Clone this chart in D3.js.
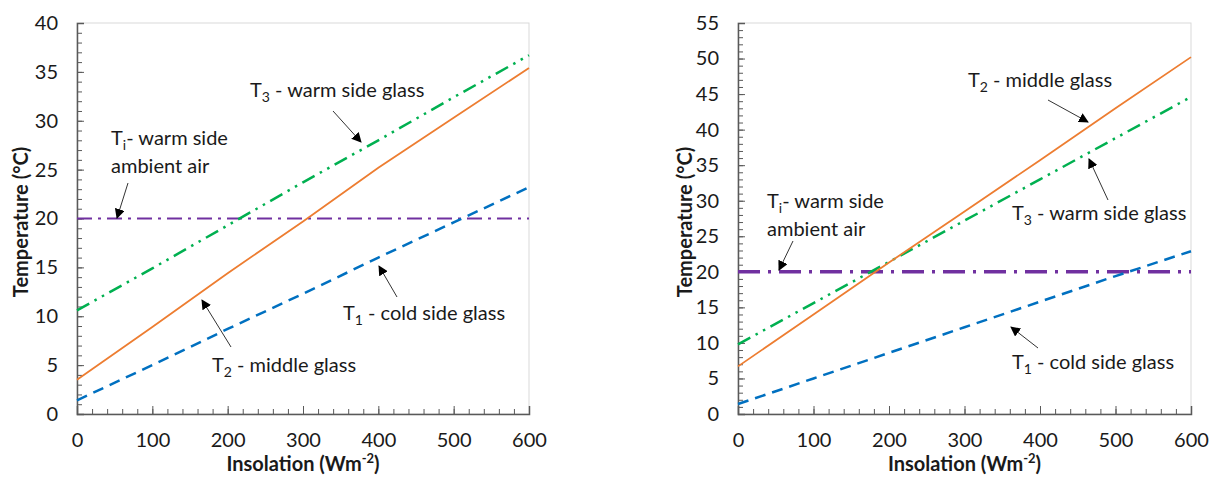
<!DOCTYPE html>
<html>
<head>
<meta charset="utf-8">
<script src="https://cdn.jsdelivr.net/npm/d3@7"></script>
<style>
  body { margin: 0; background: #fff; }
  svg text { font-family: Lato, "Open Sans", sans-serif; fill: #1a1a1a; }
</style>
</head>
<body>
<svg id="chart" width="1212" height="477"></svg>
<script>
// insolation values (Wm-2) where the curves were sampled
const insolation = [0, 100, 200, 300, 400, 500, 600];

// left panel
const leftT1 = [1.4, 5.0, 8.7, 12.3, 16.0, 19.6, 23.2];
const leftT2 = [3.5, 8.9, 14.4, 19.7, 25.2, 30.3, 35.4];
const leftT3 = [10.6, 14.9, 19.3, 23.7, 28.0, 32.4, 36.7];
const leftTi = [20, 20, 20, 20, 20, 20, 20];

// right panel
const rightT1 = [1.4, 5.0, 8.6, 12.2, 15.8, 19.4, 22.9];
const rightT2 = [6.7, 14.0, 21.3, 28.5, 35.7, 43.0, 50.2];
const rightT3 = [9.8, 15.6, 21.4, 27.2, 33.0, 38.8, 44.6];
const rightTi = [20, 20, 20, 20, 20, 20, 20];

const xTicks = [0, 100, 200, 300, 400, 500, 600];
const leftYTicks = [0, 5, 10, 15, 20, 25, 30, 35, 40];
const rightYTicks = [0, 5, 10, 15, 20, 25, 30, 35, 40, 45, 50, 55];

const FS = 20;
const svg = d3.select("#chart");

svg.append("defs").append("marker")
  .attr("id", "arrow")
  .attr("viewBox", "0 0 10 10")
  .attr("refX", 9).attr("refY", 5)
  .attr("markerWidth", 10).attr("markerHeight", 10)
  .attr("markerUnits", "userSpaceOnUse")
  .attr("orient", "auto")
  .append("path")
  .attr("d", "M0,0 L10,5 L0,10 z")
  .attr("fill", "#000");

function label(g, x, y, main, sub, rest) {
  const t = g.append("text").attr("x", x).attr("y", y).attr("font-size", FS);
  t.append("tspan").text(main);
  t.append("tspan").attr("font-size", 14).attr("dy", 5).text(sub);
  t.append("tspan").attr("dy", -5).text(rest);
  return t;
}

function arrow(g, x1, y1, x2, y2) {
  g.append("line")
    .attr("x1", x1).attr("y1", y1).attr("x2", x2).attr("y2", y2)
    .attr("stroke", "#333").attr("stroke-width", 1)
    .attr("marker-end", "url(#arrow)");
}

function drawPanel(opts) {
  const g = svg.append("g");
  const x = d3.scaleLinear().domain([0, 600]).range([opts.left, opts.right]);
  const y = d3.scaleLinear().domain([0, opts.yMax]).range([414, 23]);

  // plot area border (light)
  g.append("rect")
    .attr("x", opts.left).attr("y", 23)
    .attr("width", opts.right - opts.left).attr("height", 391)
    .attr("fill", "none").attr("stroke", "#d9d9d9").attr("stroke-width", 1);

  // minor ticks
  g.append("g")
    .attr("transform", `translate(0,414)`)
    .call(d3.axisBottom(x).tickValues(d3.range(0, 601, 20)).tickSize(-5).tickFormat(""))
    .call(s => s.select(".domain").remove())
    .call(s => s.selectAll("line").attr("stroke", "#595959"));
  g.append("g")
    .attr("transform", `translate(${opts.left},0)`)
    .call(d3.axisLeft(y).tickValues(d3.range(0, opts.yMax + 1, 1)).tickSize(-5).tickFormat(""))
    .call(s => s.select(".domain").remove())
    .call(s => s.selectAll("line").attr("stroke", "#595959"));

  // major ticks + labels
  const xAxis = g.append("g")
    .attr("transform", `translate(0,414)`)
    .call(d3.axisBottom(x).tickValues(xTicks).tickSize(-8).tickPadding(19));
  xAxis.select(".domain").attr("stroke", "#595959").attr("stroke-width", 1.5);
  xAxis.selectAll("line").attr("stroke", "#595959");
  xAxis.selectAll("text").attr("font-size", FS).attr("font-family", "Lato").attr("fill", "#1a1a1a");

  const yAxis = g.append("g")
    .attr("transform", `translate(${opts.left},0)`)
    .call(d3.axisLeft(y).tickValues(opts.yTicks).tickSize(-7).tickPadding(opts.yPad));
  yAxis.select(".domain").attr("stroke", "#595959").attr("stroke-width", 1.5);
  yAxis.selectAll("line").attr("stroke", "#595959");
  yAxis.selectAll("text").attr("font-size", FS).attr("font-family", "Lato").attr("fill", "#1a1a1a");

  // axis titles
  const xt = g.append("text")
    .attr("x", (opts.left + opts.right) / 2).attr("y", 471)
    .attr("text-anchor", "middle").attr("font-size", FS).attr("font-weight", "bold");
  xt.append("tspan").text("Insolation (Wm");
  xt.append("tspan").attr("font-size", 13).attr("dy", -8).text("-2");
  xt.append("tspan").attr("dy", 8).text(")");

  g.append("text")
    .attr("transform", `translate(${opts.yTitleX},222) rotate(-90)`)
    .attr("text-anchor", "middle").attr("font-size", FS).attr("font-weight", "bold")
    .text("Temperature (°C)");

  const line = d3.line().x((d, i) => x(insolation[i])).y(d => y(d));
  const series = [
    { v: opts.ti, color: "#7030A0", w: opts.tiWidth, dash: opts.tiDash },
    { v: opts.t1, color: "#0070C0", w: 2.5, dash: "11,7" },
    { v: opts.t3, color: "#00B050", w: 2.5, dash: "14,6,2.5,6,2.5,6" },
    { v: opts.t2, color: "#ED7D31", w: 1.8, dash: null }
  ];
  series.forEach(s => {
    g.append("path")
      .datum(s.v)
      .attr("d", line)
      .attr("fill", "none")
      .attr("stroke", s.color)
      .attr("stroke-width", s.w)
      .attr("stroke-dasharray", s.dash);
  });

  opts.notes(g);
}

drawPanel({
  left: 77, right: 529, yMax: 40, yTicks: leftYTicks, yPad: 19,
  yTitleX: 28,
  ti: leftTi, t1: leftT1, t2: leftT2, t3: leftT3,
  tiWidth: 2, tiDash: "15,6,3,6",
  notes: g => {
    label(g, 250, 97, "T", "3", " - warm side glass");
    arrow(g, 333, 111, 361, 142);
    label(g, 111, 145, "T", "i", "- warm side");
    g.append("text").attr("x", 111).attr("y", 173).attr("font-size", FS).text("ambient air");
    arrow(g, 128, 183, 117, 218);
    label(g, 343, 320, "T", "1", " - cold side glass");
    arrow(g, 397, 297, 379, 266);
    label(g, 212, 372, "T", "2", " - middle glass");
    arrow(g, 231, 347, 202, 300);
  }
});

drawPanel({
  left: 738, right: 1191, yMax: 55, yTicks: rightYTicks, yPad: 19,
  yTitleX: 692,
  ti: rightTi, t1: rightT1, t2: rightT2, t3: rightT3,
  tiWidth: 3.5, tiDash: "22,8,3,8",
  notes: g => {
    label(g, 968, 87, "T", "2", " - middle glass");
    arrow(g, 1048, 100, 1088, 122);
    label(g, 1012, 220, "T", "3", " - warm side glass");
    arrow(g, 1108, 200, 1089, 159);
    label(g, 767, 208, "T", "i", "- warm side");
    g.append("text").attr("x", 767).attr("y", 236).attr("font-size", FS).text("ambient air");
    arrow(g, 793, 241, 779, 270);
    label(g, 1012, 369, "T", "1", " - cold side glass");
    arrow(g, 1038, 348, 1011, 327);
  }
});
</script>
</body>
</html>
